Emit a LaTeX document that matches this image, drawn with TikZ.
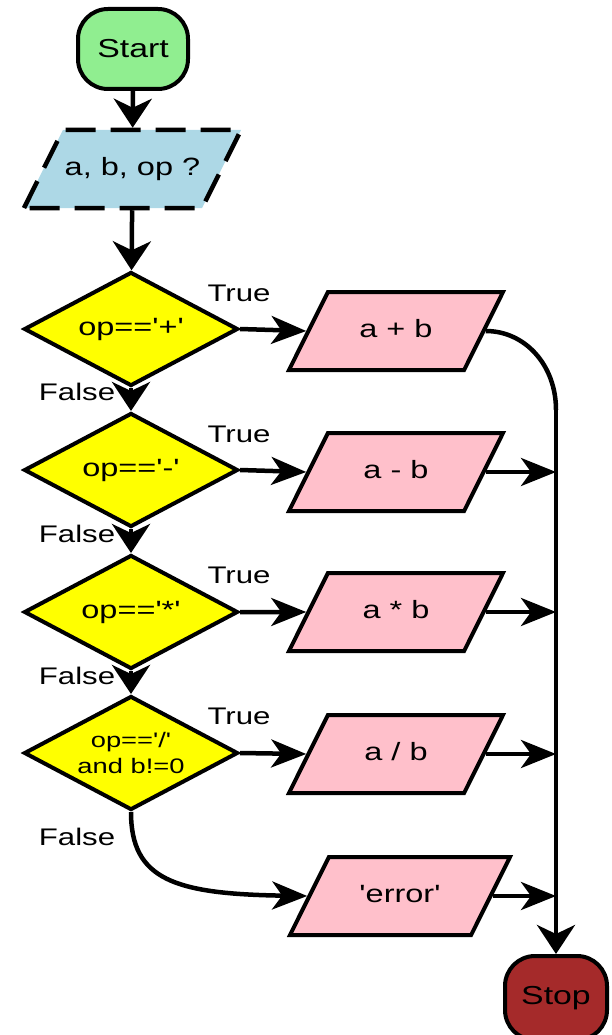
\documentclass[tikz,border=0pt]{standalone}
\usepackage{fontspec}
\setmainfont{Liberation Sans}[FakeStretch=1.3, Ligatures=TeXOff]
\usepackage{tikz}
\usetikzlibrary{shapes.geometric}
\usetikzlibrary{arrows.meta}
\usepackage{xcolor}

\definecolor{startgreen}{HTML}{90EE90}
\definecolor{inblue}{HTML}{ADD8E6}
\definecolor{outpink}{HTML}{FFC0CB}
\definecolor{stopbrown}{HTML}{A52A2A}
\definecolor{ifyellow}{HTML}{FFFF00}

\tikzset{
  terminal/.style={draw, line width=4pt, rounded corners=30pt, minimum width=110pt, minimum height=80pt, inner sep=0pt, font=\fontsize{26}{30}\selectfont},
  decision/.style={draw, diamond, aspect=1.88, fill=ifyellow, line width=4pt, minimum width=214pt, minimum height=114pt, inner sep=0pt, font=\fontsize{25}{30}\selectfont},
  io/.style={draw, trapezium, trapezium left angle=63.5, trapezium right angle=116.5, trapezium stretches body, line width=4pt, minimum width=214pt, text height=18pt, text depth=5pt, inner xsep=0pt, inner ysep=27.5pt, font=\fontsize{25}{30}\selectfont},
  lbl/.style={font=\fontsize{24}{28}\selectfont, inner sep=0pt, anchor=base},
  varrow/.style={line width=4.5pt, -{Stealth[length=29pt,width=38pt,inset=9pt]}},
  harrow/.style={line width=4.5pt, -{Stealth[length=35pt,width=28pt,inset=10pt]}}
}

\begin{document}
\begin{tikzpicture}[x=1pt,y=-1pt]

\useasboundingbox (0,0) rectangle (611,1035);

% nodes
{
\node[terminal, fill=startgreen] (start) at (133,49) {Start};
\node[io, fill=inblue, dash pattern=on 30pt off 15pt, line width=4.5pt, minimum width=217pt] (input) at (132.5,169) {a, b, op ?};

\node[decision] (plus?) at (131,329) {op=='+'};
\node[decision] (minus?) at (131,470) {op=='-'};
\node[decision] (times?) at (131,612) {op=='*'};
\node[decision, font=\fontsize{21}{26}\selectfont, align=center] (div?) at (131,753) {op=='/'\\and b!=0};

\node[io, fill=outpink] (plus) at (396,331) {a + b};
\node[io, fill=outpink] (minus) at (396,472) {a - b};
\node[io, fill=outpink] (times) at (396,612) {a * b};
\node[io, fill=outpink] (div) at (396,754) {a / b};
\node[io, fill=outpink, minimum width=220pt] (error) at (400,896) {'error'};

\node[terminal, fill=stopbrown, minimum width=102pt, minimum height=84pt, rounded corners=30pt] (stop) at (556,998) {Stop};

\coordinate (join) at (556,410);
}

% labels
{
\node[lbl] (true1) at (239,301) {True};
\node[lbl] (true2) at (239,442) {True};
\node[lbl] (true3) at (239,583) {True};
\node[lbl] (true4) at (239,724) {True};

\node[lbl] (false1) at (77,400) {False};
\node[lbl] (false2) at (77,542) {False};
\node[lbl] (false3) at (77,684) {False};
\node[lbl] (false4) at (77,845) {False};
}

%arrows
{
\draw[varrow] (start) -- (input);
\draw[varrow] (input) -- (plus?);

\draw[varrow] (plus?.south) -- (minus?.north);
\draw[varrow] (minus?.south) -- (times?.north);
\draw[varrow] (times?.south) -- (div?.north);

\draw[harrow] (plus?.east) -- (plus.west);
\draw[harrow] (minus?.east) -- (minus.west);
\draw[harrow] (times?.east) -- (times.west);
\draw[harrow] (div?.east) -- (div.west);
\draw[harrow] (div?.south) .. controls (131,880) and (175,894) .. (error.west);

\draw[line width=4.5pt] (plus.east) .. controls (525,331) and (556,365) .. (join);
\draw[varrow] (join) -- (stop.north);

\draw[harrow] (minus.east) -- (minus.east -| join);
\draw[harrow] (times.east) -- (times.east -| join);
\draw[harrow] (div.east) -- (div.east -| join);
\draw[harrow] (error.east) -- (error.east -| join);
}

\end{tikzpicture}
\end{document}
